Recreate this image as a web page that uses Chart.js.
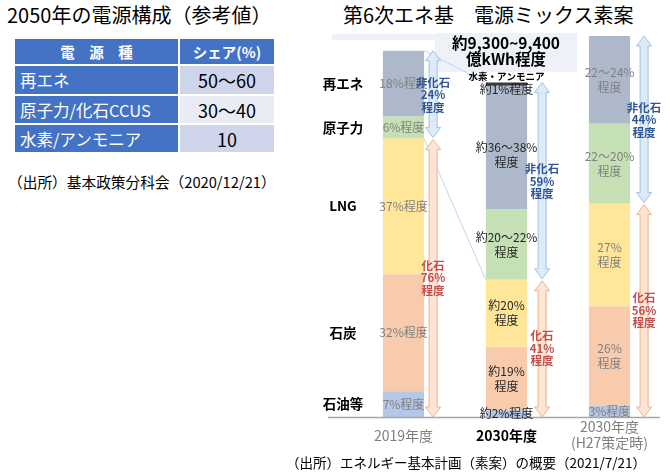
<!DOCTYPE html>
<html lang="ja">
<head>
<meta charset="utf-8">
<script src="https://cdn.jsdelivr.net/npm/chart.js@4/dist/chart.umd.min.js"></script>
<style>
body { margin:0; width:670px; height:475px; background:#fff; position:relative; overflow:hidden; font-family:"Noto Sans CJK JP", sans-serif; color:#000; }
.abs { position:absolute; white-space:nowrap; }
#title1 { left:7px; top:0; font-size:20px; line-height:30px; }
#title2 { left:343px; top:0; font-size:20px; line-height:30px; }
#src1 { left:8px; top:172px; font-size:14.7px; line-height:20px; }
#src2 { left:286px; top:452px; font-size:13.5px; line-height:20px; }
#mix2050 { position:absolute; left:13px; top:37px; border-collapse:collapse; }
#mix2050 td { border:2px solid #fff; padding:0; }
#mix2050 tr.head td { background:#4472C4; color:#fff; font-weight:bold; font-size:14.5px; text-align:center; height:25px; }
#mix2050 td.src { background:#4472C4; color:#fff; font-size:16.5px; padding-left:5px; width:158px; height:27px; }
#mix2050 td.val { font-size:18px; text-align:center; width:94px; }
#chartBox { position:absolute; left:300px; top:0; }
</style>
</head>
<body>
<div id="title1" class="abs">2050年の電源構成（参考値）</div>
<table id="mix2050"></table>
<div id="src1" class="abs">（出所）基本政策分科会（2020/12/21）</div>
<div id="title2" class="abs">第6次エネ基　電源ミックス素案</div>
<canvas id="chartBox" width="370" height="475"></canvas>
<div id="src2" class="abs">（出所）エネルギー基本計画（素案）の概要（2021/7/21）</div>
<script>
'use strict';

// 2050 reference table
let tableHead = ['電　源　種', 'シェア(%)'];
let tableSources = ['再エネ', '原子力/化石CCUS', '水素/アンモニア'];
let tableShares = ['50〜60', '30〜40', '10'];
let tableShades = ['#CFD5EA', '#E9EBF5', '#CFD5EA'];

// electricity mix chart
let years = ['2019年度', '2030年度', ['2030年度', '(H27策定時)']];
let totalGen = [10240, 9350, 10650]; // 億kWh
let sourceNames = ['石油等', '石炭', 'LNG', '原子力', '再エネ', '水素・アンモニア'];
let oilShare = [7, 2, 3];
let coalShare = [32, 19, 26];
let lngShare = [37, 20, 27];
let nuclearShare = [6, 21, 21];
let renewShare = [18, 37, 23];
let h2Share = [0, 1, 0];
let nonFossil = ['24%', '59%', '44%'];
let fossil = ['76%', '41%', '56%'];

let oilText = ['7%程度', '約2%程度', '3%程度'];
let coalText = ['32%程度', ['約19%', '程度'], ['26%', '程度']];
let lngText = ['37%程度', ['約20%', '程度'], ['27%', '程度']];
let nuclearText = ['6%程度', ['約20〜22%', '程度'], ['22〜20%', '程度']];
let renewText = ['18%程度', ['約36〜38%', '程度'], ['22〜24%', '程度']];

let colors = ['#B4C7E7', '#F8CBAD', '#FFE699', '#C5E0B4', '#ADB9CA', '#3A3A3A'];
let labelColors = ['#808080', '#262626', '#808080'];
let arrowGap = [9, 15, 14];
let FONT = '"Noto Sans CJK JP", sans-serif';

// build the table
let tableEl = document.getElementById('mix2050');
let headRow = document.createElement('tr');
headRow.className = 'head';
for (let i = 0; i < tableHead.length; i++) {
    let th = document.createElement('td');
    th.textContent = tableHead[i];
    headRow.appendChild(th);
}
tableEl.appendChild(headRow);
for (let i = 0; i < tableSources.length; i++) {
    let tr = document.createElement('tr');
    let td1 = document.createElement('td');
    td1.className = 'src';
    td1.textContent = tableSources[i];
    let td2 = document.createElement('td');
    td2.className = 'val';
    td2.textContent = tableShares[i];
    td2.style.background = tableShades[i];
    tr.appendChild(td1);
    tr.appendChild(td2);
    tableEl.appendChild(tr);
}
tableEl.rows[1].cells[0].style.height = '28px';

let shares = [oilShare, coalShare, lngShare, nuclearShare, renewShare, h2Share];
let texts = [oilText, coalText, lngText, nuclearText, renewText];

let datasets = [];
for (let s = 0; s < shares.length; s++) {
    datasets.push({
        label: sourceNames[s],
        data: shares[s].map((v, i) => v * totalGen[i] / 100),
        backgroundColor: colors[s],
        borderWidth: 0
    });
}

function drawArrow(ctx, x, top, bottom, fill, stroke) {
    let sw = 4, hw = 7.5, hl = 10;
    ctx.beginPath();
    ctx.moveTo(x, top);
    ctx.lineTo(x + hw, top + hl);
    ctx.lineTo(x + sw, top + hl);
    ctx.lineTo(x + sw, bottom - hl);
    ctx.lineTo(x + hw, bottom - hl);
    ctx.lineTo(x, bottom);
    ctx.lineTo(x - hw, bottom - hl);
    ctx.lineTo(x - sw, bottom - hl);
    ctx.lineTo(x - sw, top + hl);
    ctx.lineTo(x - hw, top + hl);
    ctx.closePath();
    ctx.fillStyle = fill;
    ctx.fill();
    ctx.strokeStyle = stroke;
    ctx.lineWidth = 1;
    ctx.stroke();
}

function lines(ctx, txt, x, y, gap) {
    let arr = Array.isArray(txt) ? txt : [txt];
    let start = y - (arr.length - 1) * gap / 2;
    for (let k = 0; k < arr.length; k++) {
        ctx.fillText(arr[k], x, start + k * gap);
    }
}

function topOf(chart, i) {
    let top = Infinity;
    for (let s = 0; s < datasets.length; s++) {
        let el = chart.getDatasetMeta(s).data[i];
        if (shares[s][i] > 0) top = Math.min(top, el.y);
    }
    return top;
}

let decorPlugin = {
    id: 'decor',
    beforeDatasetsDraw(chart) {
        let ctx = chart.ctx;
        let b1 = chart.getDatasetMeta(2).data[1];
        ctx.save();
        // light band behind the total box
        ctx.fillStyle = '#EEF2F8';
        ctx.fillRect(32, 34, 103, 6);
        ctx.fillRect(135, 33, 142, 39);
        // guide lines from 2019 bar to 2030 bar
        let a = chart.getDatasetMeta(2).data[0];
        let halfW = a.width / 2;
        ctx.strokeStyle = '#BDD7EE';
        ctx.lineWidth = 1;
        ctx.beginPath();
        ctx.moveTo(a.x + halfW, topOf(chart, 0));
        ctx.lineTo(b1.x - halfW, topOf(chart, 1));
        ctx.moveTo(a.x + halfW, chart.getDatasetMeta(3).data[0].base);
        ctx.lineTo(b1.x - halfW, chart.getDatasetMeta(3).data[1].base);
        ctx.stroke();
        ctx.fillStyle = '#000';
        ctx.font = 'bold 15.5px ' + FONT;
        ctx.textAlign = 'center';
        ctx.textBaseline = 'middle';
        ctx.fillText('約9,300~9,400', 206, 43);
        ctx.fillText('億kWh程度', 206, 59);
        ctx.restore();
    },
    afterDatasetsDraw(chart) {
        let ctx = chart.ctx;
        let xs = chart.scales.x;
        let ys = chart.scales.y;
        ctx.save();
        ctx.textAlign = 'center';
        ctx.textBaseline = 'middle';

        // baseline
        ctx.strokeStyle = '#A6A6A6';
        ctx.lineWidth = 1.5;
        ctx.beginPath();
        ctx.moveTo(28, ys.bottom + 0.5);
        ctx.lineTo(360, ys.bottom + 0.5);
        ctx.stroke();

        for (let i = 0; i < years.length; i++) {
            let x = xs.getPixelForValue(i);
            // segment labels
            ctx.fillStyle = labelColors[i];
            ctx.font = '12px ' + FONT;
            for (let s = 0; s < texts.length; s++) {
                let el = chart.getDatasetMeta(s).data[i];
                let mid = (el.y + el.base) / 2;
                if (s === 4 && h2Share[i] > 0) mid += 7;
                lines(ctx, texts[s][i], x, mid, 15);
            }
            // arrows
            let el0 = chart.getDatasetMeta(0).data[i];
            let ax = x + el0.width / 2 + arrowGap[i];
            let top = topOf(chart, i);
            let split = chart.getDatasetMeta(3).data[i].base;
            drawArrow(ctx, ax, top, split - 1, '#DEEBF7', '#9DC3E6');
            drawArrow(ctx, ax, split + 1, ys.bottom, '#FBE5D6', '#F4B183');
            ctx.font = 'bold 11.5px ' + FONT;
            ctx.fillStyle = '#2F5597';
            lines(ctx, ['非化石', nonFossil[i], '程度'], ax, (top + split) / 2, 12.5);
            ctx.fillStyle = '#C0504D';
            lines(ctx, ['化石', fossil[i], '程度'], ax, (split + ys.bottom) / 2, 12.5);

            // year labels
            ctx.fillStyle = i === 1 ? '#000' : '#7F7F7F';
            ctx.font = (i === 1 ? 'bold ' : '') + '14px ' + FONT;
            if (Array.isArray(years[i])) {
                lines(ctx, years[i], x, ys.bottom + 18, 16);
            } else {
                ctx.fillText(years[i], x, ys.bottom + 19);
            }
        }

        // hydrogen note on 2030 bar
        let h = chart.getDatasetMeta(5).data[1];
        ctx.fillStyle = '#000';
        ctx.font = 'bold 9.5px ' + FONT;
        ctx.fillText('水素・アンモニア', h.x, h.y - 6);
        ctx.fillStyle = '#262626';
        ctx.font = '12px ' + FONT;
        ctx.fillText('約1%程度', h.x, h.y + 7);

        // row labels follow 2019 segments
        ctx.fillStyle = '#000';
        ctx.font = 'bold 13.5px ' + FONT;
        for (let s = 0; s < 5; s++) {
            let el = chart.getDatasetMeta(s).data[0];
            ctx.fillText(sourceNames[s], xs.left - 9, (el.y + el.base) / 2);
        }
        ctx.restore();
    }
};

let ctx = document.getElementById('chartBox').getContext('2d');
let mixChart = new Chart(ctx, {
    type: 'bar',
    data: {
        labels: years,
        datasets: datasets
    },
    options: {
        responsive: false,
        animation: false,
        layout: { padding: { left: 52, right: 9, top: 36, bottom: 58 } },
        datasets: { bar: { barPercentage: 0.4, categoryPercentage: 1 } },
        plugins: { legend: { display: false }, tooltip: { enabled: false } },
        scales: {
            x: { stacked: true, display: false },
            y: { stacked: true, display: false, min: 0, max: Math.max(...totalGen) }
        }
    },
    plugins: [decorPlugin]
});
</script>
</body>
</html>
